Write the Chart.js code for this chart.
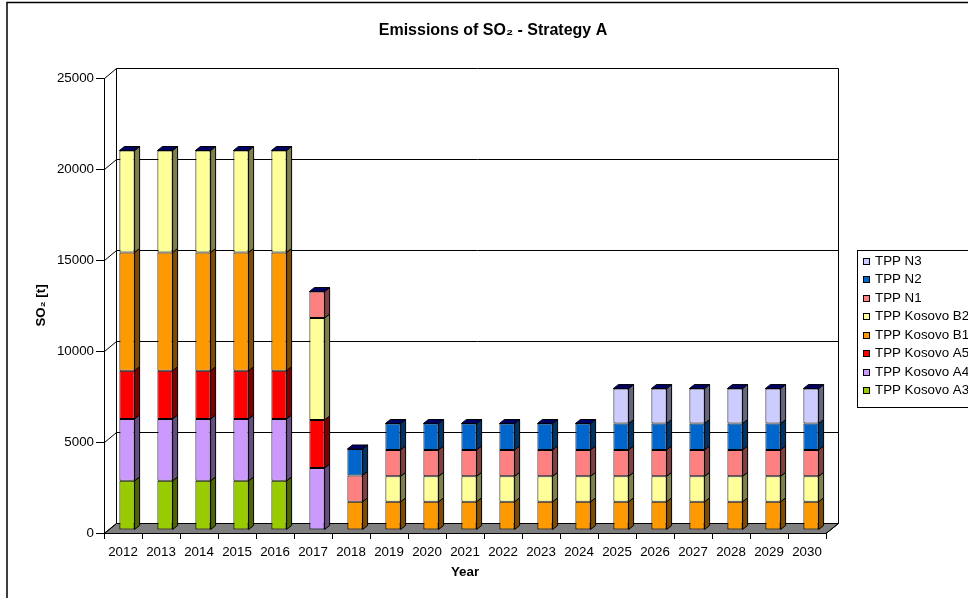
<!DOCTYPE html>
<html>
<head>
<meta charset="utf-8">
<script src="https://cdn.jsdelivr.net/npm/chart.js@4.4.1/dist/chart.umd.min.js"></script>
<style>
html,body{margin:0;padding:0;background:#fff;overflow:hidden;}
canvas{display:block;}
</style>
</head>
<body>
<canvas id="c" width="968" height="598"></canvas>
<script>
// ---- data ----
const years = ['2012','2013','2014','2015','2016','2017','2018','2019','2020','2021','2022','2023','2024','2025','2026','2027','2028','2029','2030'];
const tppKosovoA3 = [2700,2700,2700,2700,2700,null,null,null,null,null,null,null,null,null,null,null,null,null,null];
const tppKosovoA4 = [3400,3400,3400,3400,3400,3400,null,null,null,null,null,null,null,null,null,null,null,null,null];
const tppKosovoA5 = [2650,2650,2650,2650,2650,2650,null,null,null,null,null,null,null,null,null,null,null,null,null];
const tppKosovoB1 = [6500,6500,6500,6500,6500,null,1550,1550,1550,1550,1550,1550,1550,1550,1550,1550,1550,1550,1550];
const tppKosovoB2 = [5600,5600,5600,5600,5600,5600,null,1400,1400,1400,1400,1400,1400,1400,1400,1400,1400,1400,1400];
const tppN1 = [null,null,null,null,null,1450,1450,1450,1450,1450,1450,1450,1450,1450,1450,1450,1450,1450,1450];
const tppN2 = [null,null,null,null,null,null,1450,1450,1450,1450,1450,1450,1450,1450,1450,1450,1450,1450,1450];
const tppN3 = [null,null,null,null,null,null,null,null,null,null,null,null,null,1920,1920,1920,1920,1920,1920];
const seriesNames = ['TPP Kosovo A3','TPP Kosovo A4','TPP Kosovo A5','TPP Kosovo B1','TPP Kosovo B2','TPP N1','TPP N2','TPP N3'];
const seriesValues = [tppKosovoA3,tppKosovoA4,tppKosovoA5,tppKosovoB1,tppKosovoB2,tppN1,tppN2,tppN3];
const yTicks = [0,5000,10000,15000,20000,25000];
const chartTitle = 'Emissions of SO\u2082 - Strategy A';
const yTitle = 'SO\u2082 [t]';
const xTitle = 'Year';

// ---- styles ----
const seriesColors = ['#99CC00','#CC99FF','#FF0000','#FF9900','#FFFF99','#FF8080','#0066CC','#CCCCFF'];
const FONT = '"Liberation Sans", Arial, Helvetica, sans-serif';
const FS = 13.33;
const WALL_DX = 12.5, WALL_DY = -10;
const BAR_DX = 4, BAR_DY = -3;
const DEP_X = 5, DEP_Y = -4;

function shade(hex, f){
  const n = parseInt(hex.slice(1),16);
  const r = Math.round(((n>>16)&255)*f), g = Math.round(((n>>8)&255)*f), b = Math.round((n&255)*f);
  return 'rgb('+r+','+g+','+b+')';
}

const frame3d = {
  id: 'frame3d',
  beforeDraw(chart){
    const {ctx, chartArea:a, scales} = chart;
    const y = scales.y;
    const L = a.left, R = a.right, B = a.bottom;
    ctx.save();
    // outer frame (left and top edges visible)
    ctx.strokeStyle = '#000'; ctx.lineWidth = 1.5;
    ctx.beginPath(); ctx.moveTo(7, 600); ctx.lineTo(7, 2.5); ctx.lineTo(970, 2.5); ctx.stroke();
    ctx.lineWidth = 1;
    // floor
    ctx.fillStyle = '#808080';
    ctx.beginPath();
    ctx.moveTo(L, B+0.5); ctx.lineTo(R, B+0.5); ctx.lineTo(R+WALL_DX, B+0.5+WALL_DY); ctx.lineTo(L+WALL_DX, B+0.5+WALL_DY); ctx.closePath();
    ctx.fill(); ctx.strokeStyle = '#000'; ctx.stroke();
    // back wall gridlines + left wall connectors
    ctx.strokeStyle = '#000';
    yTicks.forEach(v => {
      const py = Math.round(y.getPixelForValue(v)) + 0.5;
      ctx.beginPath();
      ctx.moveTo(L+0.5, py); ctx.lineTo(L+WALL_DX, py+WALL_DY);
      if (v > 0) ctx.lineTo(R+WALL_DX, py+WALL_DY);
      ctx.stroke();
    });
    const topY = Math.round(y.getPixelForValue(yTicks[yTicks.length-1])) + 0.5 + WALL_DY;
    const botY = Math.round(y.getPixelForValue(0)) + 0.5 + WALL_DY;
    ctx.beginPath();
    ctx.moveTo(L+WALL_DX, topY); ctx.lineTo(L+WALL_DX, botY);
    ctx.moveTo(R+WALL_DX, topY); ctx.lineTo(R+WALL_DX, botY);
    ctx.moveTo(R, B+0.5); ctx.lineTo(R+WALL_DX, B+0.5+WALL_DY);
    ctx.stroke();
    ctx.restore();
  },
  beforeDatasetsDraw(chart){
    chart.ctx.save();
    chart.ctx.translate(BAR_DX, BAR_DY);
  },
  afterDatasetsDraw(chart){
    const ctx = chart.ctx;
    const n = chart.data.labels.length;
    const topIdx = new Array(n).fill(-1);
    chart.data.datasets.forEach((ds, di) => ds.data.forEach((v, i) => { if (v) topIdx[i] = di; }));
    ctx.lineWidth = 1; ctx.strokeStyle = '#000'; ctx.lineJoin = 'miter';
    chart.data.datasets.forEach((ds, di) => {
      const meta = chart.getDatasetMeta(di);
      meta.data.forEach((el, i) => {
        if (!ds.data[i]) return;
        const p = el.getProps(['x','y','base','width'], true);
        const l = p.x - p.width/2, r = p.x + p.width/2;
        const t = Math.min(p.y, p.base), b = Math.max(p.y, p.base);
        ctx.beginPath();
        ctx.moveTo(r, t); ctx.lineTo(r+DEP_X, t+DEP_Y); ctx.lineTo(r+DEP_X, b+DEP_Y); ctx.lineTo(r, b); ctx.closePath();
        ctx.fillStyle = shade(ds.backgroundColor, 0.5); ctx.fill(); ctx.stroke();
        if (topIdx[i] === di) {
          ctx.beginPath();
          ctx.moveTo(l, t); ctx.lineTo(l+DEP_X, t+DEP_Y); ctx.lineTo(r+DEP_X, t+DEP_Y); ctx.lineTo(r, t); ctx.closePath();
          ctx.fillStyle = '#000066'; ctx.fill(); ctx.stroke();
        }
      });
    });
    ctx.restore();
  },
  afterDraw(chart){
    const ctx = chart.ctx;
    ctx.save();
    const bx = 857.5, by = 250.5, rowH = 18.5;
    const dsets = chart.data.datasets.slice().reverse();
    ctx.fillStyle = '#fff'; ctx.strokeStyle = '#000'; ctx.lineWidth = 1;
    ctx.fillRect(bx, by, 200, 9 + dsets.length*rowH);
    ctx.strokeRect(bx, by, 200, 9 + dsets.length*rowH);
    ctx.font = FS + 'px ' + FONT; ctx.textBaseline = 'middle'; ctx.textAlign = 'left';
    dsets.forEach((ds, k) => {
      const cy = by + 10 + k*rowH;
      ctx.fillStyle = ds.backgroundColor;
      ctx.fillRect(863.5, Math.round(cy-3)+0.5, 6, 6);
      ctx.strokeRect(863.5, Math.round(cy-3)+0.5, 6, 6);
      ctx.fillStyle = '#000';
      ctx.fillText(ds.label, 875, cy+0.5);
    });
    ctx.restore();
  }
};

const datasets = seriesNames.map((name, k) => ({
  label: name,
  data: seriesValues[k],
  backgroundColor: seriesColors[k],
  borderColor: '#000',
  borderWidth: 1,
  borderSkipped: false,
  barPercentage: 0.4,
  categoryPercentage: 1.0,
  clip: false
}));

new Chart(document.getElementById('c'), {
  type: 'bar',
  data: { labels: years, datasets },
  plugins: [frame3d],
  options: {
    responsive: false,
    animation: false,
    devicePixelRatio: 1,
    layout: { padding: { left: 18, right: 0, top: 0, bottom: 0 } },
    plugins: {
      legend: { display: false },
      tooltip: { enabled: false },
      title: {
        display: true,
        text: chartTitle,
        color: '#000',
        font: { family: FONT, size: 16, weight: 'bold' },
        padding: { top: 21, bottom: 37.8 }
      }
    },
    scales: {
      x: {
        stacked: true,
        offset: true,
        grid: { display: true, drawOnChartArea: false, drawTicks: true, tickLength: 6, offset: true, color: '#000' },
        border: { display: true, color: '#000' },
        ticks: { color: '#000', font: { family: FONT, size: FS }, padding: 5, maxRotation: 0, autoSkip: false },
        title: { display: true, text: xTitle, color: '#000', font: { family: FONT, size: FS, weight: 'bold' }, padding: { top: 2, bottom: 17.5 } },
        afterFit(s){ s.height = 65; }
      },
      y: {
        stacked: true,
        min: 0, max: 25000,
        afterBuildTicks(s){ s.ticks = yTicks.map(v => ({ value: v })); },
        grid: { display: true, drawOnChartArea: false, drawTicks: true, tickLength: 8, color: '#000' },
        border: { display: true, color: '#000' },
        ticks: { color: '#000', font: { family: FONT, size: FS }, padding: 2, callback: v => String(v) },
        title: { display: true, text: yTitle, color: '#000', font: { family: FONT, size: FS, weight: 'bold' }, padding: { top: 15, bottom: 0 } },
        afterFit(s){ s.width = 86; }
      },
      yRight: {
        type: 'linear',
        position: 'right',
        display: true,
        grid: { display: false },
        border: { display: false },
        ticks: { display: false },
        afterFit(s){ s.width = 142; }
      }
    }
  }
});
</script>
</body>
</html>
